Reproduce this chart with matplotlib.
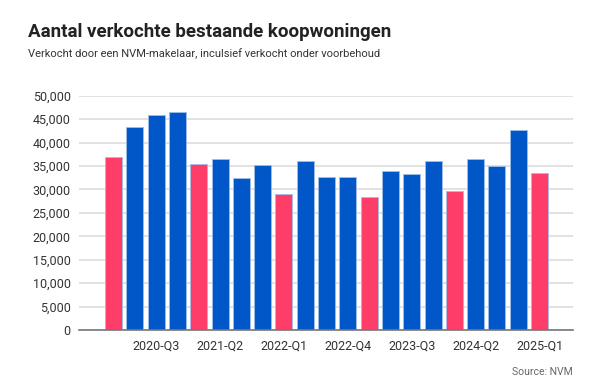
import matplotlib
matplotlib.use('Agg')
import matplotlib.pyplot as plt
from matplotlib.ticker import FuncFormatter

plt.rcParams['font.family'] = ['Roboto', 'DejaVu Sans']

# data
quarters = ['2020-Q1', '2020-Q2', '2020-Q3', '2020-Q4',
            '2021-Q1', '2021-Q2', '2021-Q3', '2021-Q4',
            '2022-Q1', '2022-Q2', '2022-Q3', '2022-Q4',
            '2023-Q1', '2023-Q2', '2023-Q3', '2023-Q4',
            '2024-Q1', '2024-Q2', '2024-Q3', '2024-Q4',
            '2025-Q1']
sold = [36900, 43300, 45900, 46450,
        35500, 36500, 32400, 35300,
        29100, 36100, 32600, 32600,
        28450, 33900, 33300, 36100,
        29700, 36600, 35100, 42700,
        33500]

blue = '#0157c8'
pink = '#fe3d69'
colors = [pink if q.endswith('Q1') else blue for q in quarters]

fig = plt.figure(figsize=(6, 3.9), dpi=100)
ax = fig.add_axes([0.1317, 0.1538, 0.8233, 0.6008])

x = range(len(quarters))
ax.bar(x, sold, width=0.8, color=colors, edgecolor='#9fbfea', linewidth=0.6, zorder=3)

ax.set_ylim(0, 50000)
ax.set_xlim(-1.62, 21.57)
ax.set_yticks(range(0, 50001, 5000))
ax.yaxis.set_major_formatter(FuncFormatter(lambda v, p: f'{int(v):,}'))
ax.set_xticks(list(x)[2::3])
ax.set_xticklabels(quarters[2::3])

ax.grid(axis='y', color='#e2e2e2', linewidth=1.4, zorder=0)
for s in ['top', 'right', 'left']:
    ax.spines[s].set_visible(False)
ax.spines['bottom'].set_color('#777777')
ax.spines['bottom'].set_linewidth(1.2)
ax.spines['bottom'].set_zorder(4)
ax.tick_params(axis='both', length=0, labelsize=9, colors='#333333')
ax.tick_params(axis='x', pad=7)
ax.tick_params(axis='y', pad=6)

fig.text(0.047, 0.905, 'Aantal verkochte bestaande koopwoningen',
         fontsize=13.5, fontweight='bold', color='#222222')
fig.text(0.047, 0.854, 'Verkocht door een NVM-makelaar, inculsief verkocht onder voorbehoud',
         fontsize=8.0, color='#333333')
fig.text(0.955, 0.038, 'Source: NVM', fontsize=7.5, color='#666666', ha='right')

fig.savefig('out.png', dpi=100)
